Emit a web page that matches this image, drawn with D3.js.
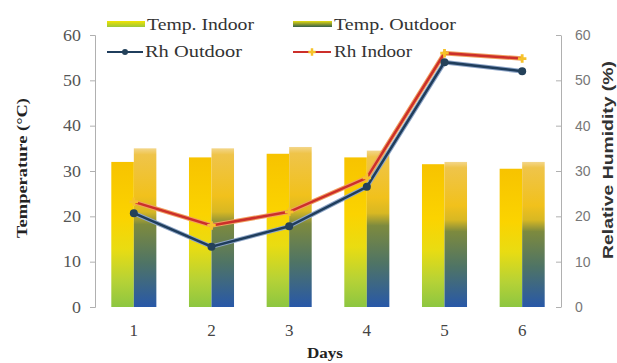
<!DOCTYPE html>
<html>
<head>
<meta charset="utf-8">
<script src="https://cdn.jsdelivr.net/npm/d3@7"></script>
<style>
	body { margin: 0; background: #fff; }
</style>
</head>
<body>
<div id="chart"></div>
<script>
// data
var days = [ '1', '2', '3', '4', '5', '6' ];
var tempIndoor = [ 32, 33, 33.8, 33, 31.5, 30.5 ];
var tempOutdoor = [ 35, 35, 35.3, 34.5, 32, 32 ];
var rhOutdoor = [ 20.7, 13.3, 17.8, 26.5, 54, 52 ];
var rhIndoor = [ 23.2, 18, 21, 28.5, 56, 54.8 ];
var yTicks = [ 0, 10, 20, 30, 40, 50, 60 ];

var serif = "'Liberation Serif', 'Times New Roman', serif";
var sans = "'Liberation Sans', 'DejaVu Sans', sans-serif";

var width = 617;
var height = 363;
var margin = { top: 35, right: 56, bottom: 56, left: 95 };

var svg = d3.select('#chart').append('svg').attr('width', width).attr('height', height);

var defs = svg.append('defs');

var gIn = defs.append('linearGradient').attr('id', 'gradIn').attr('x1', 0).attr('y1', 0).attr('x2', 0).attr('y2', 1);
gIn.append('stop').attr('offset', '0%').attr('stop-color', '#f7c300');
gIn.append('stop').attr('offset', '38%').attr('stop-color', '#fbd300');
gIn.append('stop').attr('offset', '60%').attr('stop-color', '#e9dc12');
gIn.append('stop').attr('offset', '82%').attr('stop-color', '#b6d236');
gIn.append('stop').attr('offset', '100%').attr('stop-color', '#8dc641');

var gOut = defs.append('linearGradient').attr('id', 'gradOut').attr('x1', 0).attr('y1', 0).attr('x2', 0).attr('y2', 1);
gOut.append('stop').attr('offset', '0%').attr('stop-color', '#f3d68a');
gOut.append('stop').attr('offset', '4%').attr('stop-color', '#efc44a');
gOut.append('stop').attr('offset', '30%').attr('stop-color', '#f1c11c');
gOut.append('stop').attr('offset', '40%').attr('stop-color', '#d8b823');
gOut.append('stop').attr('offset', '48%').attr('stop-color', '#7d8a3e');
gOut.append('stop').attr('offset', '72%').attr('stop-color', '#4f7465');
gOut.append('stop').attr('offset', '100%').attr('stop-color', '#2858a8');

var gLegIn = defs.append('linearGradient').attr('id', 'legIn').attr('x1', 0).attr('y1', 0).attr('x2', 0).attr('y2', 1);
gLegIn.append('stop').attr('offset', '0%').attr('stop-color', '#f2e400');
gLegIn.append('stop').attr('offset', '100%').attr('stop-color', '#9cc83a');

var gLegOut = defs.append('linearGradient').attr('id', 'legOut').attr('x1', 0).attr('y1', 0).attr('x2', 0).attr('y2', 1);
gLegOut.append('stop').attr('offset', '0%').attr('stop-color', '#e6dc10');
gLegOut.append('stop').attr('offset', '100%').attr('stop-color', '#355e4a');

var x = d3
	.scaleBand()
	.domain(days)
	.range([ margin.left, width - margin.right ])
	.paddingInner(0.42)
	.paddingOuter(0.21);

var xSub = d3.scaleBand().domain([ 'in', 'out' ]).range([ 0, x.bandwidth() ]);

var y = d3.scaleLinear().domain([ 0, 60 ]).range([ height - margin.bottom, margin.top ]);
var y2 = d3.scaleLinear().domain([ 0, 60 ]).range([ height - margin.bottom, margin.top ]);

// bars
var groups = svg
	.append('g')
	.selectAll('g')
	.data(days)
	.enter()
	.append('g')
	.attr('transform', (d) => `translate(${x(d)},0)`);

groups
	.append('rect')
	.attr('x', xSub('in'))
	.attr('width', xSub.bandwidth())
	.attr('y', (d, i) => y(tempIndoor[i]))
	.attr('height', (d, i) => y(0) - y(tempIndoor[i]))
	.attr('fill', 'url(#gradIn)');

groups
	.append('rect')
	.attr('x', xSub('out'))
	.attr('width', xSub.bandwidth())
	.attr('y', (d, i) => y(tempOutdoor[i]))
	.attr('height', (d, i) => y(0) - y(tempOutdoor[i]))
	.attr('fill', 'url(#gradOut)');

// axes
var yAxis = (g) =>
	g
		.attr('transform', `translate(${margin.left},0)`)
		.call(d3.axisLeft(y).tickValues(yTicks).tickSize(5).tickPadding(9))
		.attr('font-family', serif)
		.call((g) => g.select('.domain').attr('stroke', '#b0b0b0'))
		.call((g) => g.selectAll('.tick line').attr('stroke', '#b0b0b0'))
		.call((g) =>
			g
				.selectAll('.tick text')
				.attr('fill', '#555')
				.style('font-size', '16px')
				.attr('transform', 'scale(1.12,1)')
				.attr('x', -14 / 1.12)
		);

var y2Axis = (g) =>
	g
		.attr('transform', `translate(${width - margin.right},0)`)
		.call(d3.axisRight(y2).tickValues(yTicks).tickSize(0).tickPadding(14))
		.attr('font-family', sans)
		.call((g) => g.select('.domain').attr('stroke', '#b0b0b0'))
		.call((g) =>
			g
				.selectAll('.tick')
				.append('line')
				.attr('x1', -5)
				.attr('x2', 0)
				.attr('stroke', '#b0b0b0')
		)
		.call((g) => g.selectAll('.tick text').attr('fill', '#777').style('font-size', '14px'));

svg.append('g').call(yAxis);
svg.append('g').call(y2Axis);

svg
	.append('g')
	.selectAll('text')
	.data(days)
	.enter()
	.append('text')
	.attr('x', (d) => x(d) + x.bandwidth() / 2)
	.attr('y', 336)
	.attr('text-anchor', 'middle')
	.attr('fill', '#444')
	.attr('font-family', serif)
	.style('font-size', '17px')
	.text((d) => d);

// humidity lines
var line = d3
	.line()
	.x((d, i) => x(days[i]) + x.bandwidth() / 2)
	.y((d) => y2(d));

svg.append('path').datum(rhOutdoor).attr('d', line).attr('fill', 'none').attr('stroke', '#8fa6c8').attr('stroke-width', 4.5);
svg.append('path').datum(rhOutdoor).attr('d', line).attr('fill', 'none').attr('stroke', '#1f3d5c').attr('stroke-width', 2.5);

svg.append('path').datum(rhIndoor).attr('d', line).attr('fill', 'none').attr('stroke', '#f0a060').attr('stroke-width', 4.5);
svg.append('path').datum(rhIndoor).attr('d', line).attr('fill', 'none').attr('stroke', '#cc2f2a').attr('stroke-width', 2.5);

svg
	.append('g')
	.selectAll('circle')
	.data(rhOutdoor)
	.enter()
	.append('circle')
	.attr('cx', (d, i) => x(days[i]) + x.bandwidth() / 2)
	.attr('cy', (d) => y2(d))
	.attr('r', 4)
	.attr('fill', '#24415a');

svg
	.append('g')
	.selectAll('path')
	.data(rhIndoor)
	.enter()
	.append('path')
	.attr('transform', (d, i) => `translate(${x(days[i]) + x.bandwidth() / 2},${y2(d)})`)
	.attr('d', d3.symbol().type(d3.symbolCross).size(40))
	.attr('fill', '#f6c22a');

// legend
var leg = svg.append('g').attr('font-family', serif).attr('fill', '#333').style('font-size', '17px');
leg.append('rect').attr('x', 107).attr('y', 21).attr('width', 38).attr('height', 6).attr('fill', 'url(#legIn)');
leg.append('text').attr('x', 147).attr('y', 30).attr('textLength', 107).attr('lengthAdjust', 'spacingAndGlyphs').text('Temp. Indoor');
leg.append('rect').attr('x', 293).attr('y', 21).attr('width', 39).attr('height', 6).attr('fill', 'url(#legOut)');
leg.append('text').attr('x', 334).attr('y', 30).attr('textLength', 122).attr('lengthAdjust', 'spacingAndGlyphs').text('Temp. Outdoor');

leg.append('line').attr('x1', 107).attr('x2', 143).attr('y1', 52).attr('y2', 52).attr('stroke', '#1f3d5c').attr('stroke-width', 2);
leg.append('circle').attr('cx', 125).attr('cy', 52).attr('r', 3).attr('fill', '#24415a');
leg.append('text').attr('x', 145).attr('y', 57).attr('textLength', 97).attr('lengthAdjust', 'spacingAndGlyphs').text('Rh Outdoor');
leg.append('line').attr('x1', 293).attr('x2', 331).attr('y1', 52).attr('y2', 52).attr('stroke', '#cc2f2a').attr('stroke-width', 2);
leg
	.append('path')
	.attr('transform', 'translate(312,52)')
	.attr('d', d3.symbol().type(d3.symbolCross).size(30))
	.attr('fill', '#f6c22a');
leg.append('text').attr('x', 334).attr('y', 57).attr('textLength', 78).attr('lengthAdjust', 'spacingAndGlyphs').text('Rh Indoor');

// axis titles
svg
	.append('text')
	.attr('transform', 'translate(27,168) rotate(-90)')
	.attr('text-anchor', 'middle')
	.attr('font-weight', 'bold')
	.attr('font-family', serif)
	.attr('fill', '#222')
	.attr('textLength', 140)
	.attr('lengthAdjust', 'spacingAndGlyphs')
	.style('font-size', '15px')
	.text('Temperature (°C)');

svg
	.append('text')
	.attr('transform', 'translate(613,160) rotate(-90)')
	.attr('text-anchor', 'middle')
	.attr('font-weight', 'bold')
	.attr('font-family', sans)
	.attr('fill', '#333')
	.attr('textLength', 198)
	.attr('lengthAdjust', 'spacingAndGlyphs')
	.style('font-size', '15px')
	.text('Relative Humidity (%)');

svg
	.append('text')
	.attr('x', 325)
	.attr('y', 358)
	.attr('text-anchor', 'middle')
	.attr('font-weight', 'bold')
	.attr('font-family', serif)
	.attr('fill', '#222')
	.attr('textLength', 36)
	.attr('lengthAdjust', 'spacingAndGlyphs')
	.style('font-size', '15px')
	.text('Days');
</script>
</body>
</html>
